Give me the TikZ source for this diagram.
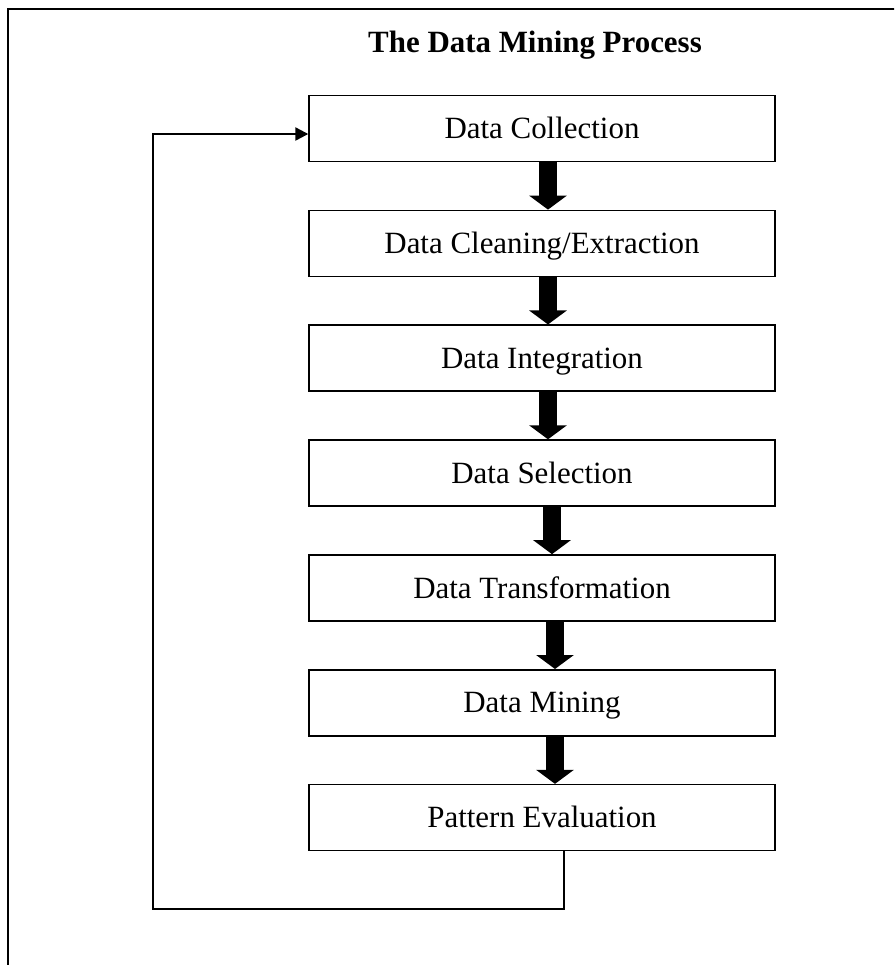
\documentclass[tikz,border=0pt]{standalone}
\usepackage{fontspec}
\setmainfont{Liberation Serif}
\usetikzlibrary{arrows.meta}

\begin{document}
\begin{tikzpicture}[x=0.02cm, y=-0.02cm,
    stage/.style={draw, line width=0.85pt, minimum width=9.32cm,
        minimum height=1.32cm, inner sep=0pt, text height=12.2pt,
        text depth=0.55pt, font=\fontsize{17.6}{20}\selectfont},
    flow/.style={line width=0.36cm, -{Triangle[width=0.74cm, length=0.28cm]}},
    back/.style={line width=1.3pt, -{Triangle[width=0.26cm, length=0.26cm]}}]
    \clip (0,0) rectangle (894,965);
    \draw[line width=1.1pt] (8,975) -- (8,9) -- (904,9);
    \path
    (535,52) node[anchor=base, font=\bfseries\fontsize{17.6}{20}\selectfont]
        (title) {The Data Mining Process}
    (542,128.5) node[stage] (coll) {Data Collection}
    (542,243.35) node[stage] (clean) {Data Cleaning/Extraction}
    (542,358.2) node[stage] (integ) {Data Integration}
    (542,473.05) node[stage] (sel) {Data Selection}
    (542,587.9) node[stage] (trans) {Data Transformation}
    (542,702.75) node[stage] (mine) {Data Mining}
    (542,817.6) node[stage] (eval) {Pattern Evaluation};
    % big arrows between the stages
    \draw[flow] ([xshift=0.12cm]coll.south) -- ([xshift=0.12cm]clean.north);
    \draw[flow] ([xshift=0.12cm]clean.south) -- ([xshift=0.12cm]integ.north);
    \draw[flow] ([xshift=0.12cm]integ.south) -- ([xshift=0.12cm]sel.north);
    \draw[flow] ([xshift=0.2cm]sel.south) -- ([xshift=0.2cm]trans.north);
    \draw[flow] ([xshift=0.26cm]trans.south) -- ([xshift=0.26cm]mine.north);
    \draw[flow] ([xshift=0.26cm]mine.south) -- ([xshift=0.26cm]eval.north);
    % loop back to the start
    \coordinate (loop) at (153,909);
    \draw[back] ([xshift=0.44cm]eval.south) |- (loop)
        |- ([yshift=-0.11cm]coll.west);
\end{tikzpicture}
\end{document}
